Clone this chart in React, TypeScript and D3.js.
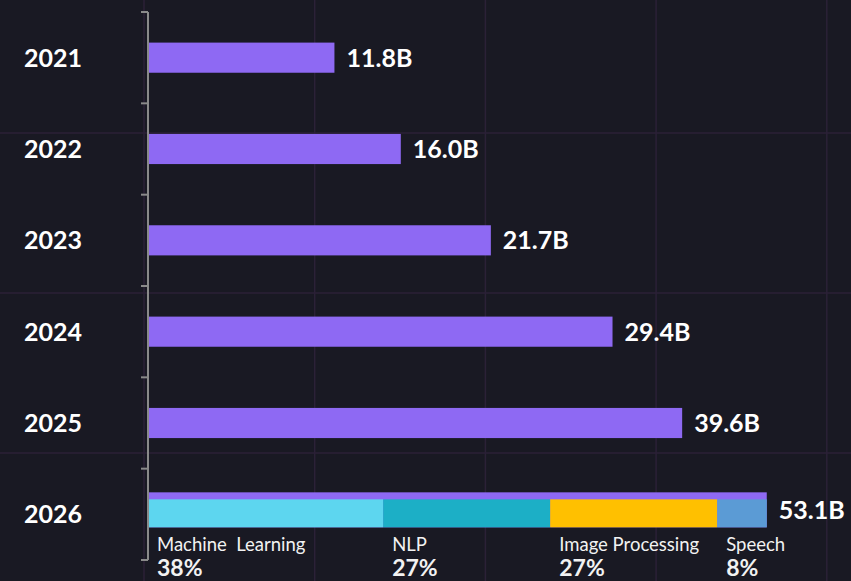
import React from "react";
import * as d3 from "d3";

// market size by year, billions
const years = ["2021", "2022", "2023", "2024", "2025", "2026"];
const sizes = [11.8, 16.0, 21.7, 29.4, 39.6, 53.1];

// 2026 split by segment
const segNames = ["Machine  Learning", "NLP", "Image Processing", "Speech"];
const segShares = [38, 27, 27, 8];
const segColors = ["#5dd6ef", "#1cafc6", "#ffc000", "#5b9bd5"];

const W = 851;
const H = 581;
const BG = "#191923";
const PURPLE = "#8e69f3";
const FONT = "Lato, 'Open Sans', sans-serif";

export default function App() {
  const left = 148;

  const y = d3.scaleBand<string>().domain(years).range([12, 560]).padding(0);

  // axis is stretched toward the small values, flattens past 30B
  const x = d3.scaleLinear().domain([0, 30, 60]).range([left, 622, 810]);

  const barH = y.bandwidth() * 0.33;
  const last = years[years.length - 1];
  const lastVal = sizes[sizes.length - 1];

  // stacked segments of the final bar
  const shareTotal = d3.sum(segShares);
  const segX = d3.scaleLinear().domain([0, shareTotal]).range([x(0), x(lastVal)]);
  const cum = d3.cumsum(segShares);
  const segs = segNames.map((name, i) => ({
    name,
    share: segShares[i],
    color: segColors[i],
    x0: segX(cum[i] - segShares[i]),
    x1: segX(cum[i]),
  }));

  const lastCy = (y(last) as number) + y.bandwidth() / 2;
  const lastTop = lastCy - 22;
  const lastH = 35;

  // background grid
  const gridX = d3.range(-1, 5).map((k) => 144 + k * 170.7);
  const gridY = d3.range(-1, 4).map((k) => 133 + k * 160);

  const boundaries = d3.range(years.length + 1).map((i) => y.range()[0] + i * y.step());

  return (
    <svg
      width={W}
      height={H}
      style={{ position: "fixed", left: 0, top: 0, display: "block", background: BG }}
    >
      <rect width={W} height={H} fill={BG} />
      <g stroke="#2b2137" strokeWidth={1.5}>
        {gridX.map((gx) => (
          <line key={"gx" + gx} x1={gx} x2={gx} y1={0} y2={H} />
        ))}
        {gridY.map((gy) => (
          <line key={"gy" + gy} x1={0} x2={W} y1={gy} y2={gy} />
        ))}
      </g>

      {/* bars */}
      {years.map((yr, i) => {
        if (yr === last) return null;
        const cy = (y(yr) as number) + y.bandwidth() / 2;
        return (
          <g key={yr}>
            <rect x={x(0)} y={cy - barH / 2} width={x(sizes[i]) - x(0)} height={barH} fill={PURPLE} />
            <text
              x={x(sizes[i]) + 12}
              y={cy}
              dy="0.36em"
              fill="#fff"
              fontFamily={FONT}
              fontWeight={700}
              fontSize={25}
            >
              {sizes[i].toFixed(1)}B
            </text>
          </g>
        );
      })}

      {/* last bar with segment split */}
      <rect x={x(0)} y={lastTop} width={x(lastVal) - x(0)} height={lastH} fill={PURPLE} />
      {segs.map((s) => (
        <rect key={s.name} x={s.x0} y={lastTop + 7} width={s.x1 - s.x0} height={lastH - 7} fill={s.color} />
      ))}
      <text
        x={x(lastVal) + 12}
        y={lastCy - 4}
        dy="0.36em"
        fill="#fff"
        fontFamily={FONT}
        fontWeight={700}
        fontSize={25}
      >
        {lastVal.toFixed(1)}B
      </text>
      {segs.map((s) => (
        <g key={"l" + s.name} fontFamily={FONT} fill="#f2f2f2">
          <text x={s.x0 + 9} y={551} fontSize={18.5} style={{ whiteSpace: "pre" }}>
            {s.name}
          </text>
          <text x={s.x0 + 9} y={576} fontSize={23} fontWeight={700}>
            {s.share}%
          </text>
        </g>
      ))}

      {/* y axis */}
      <g stroke="#8a8a8a" strokeWidth={2} fill="none">
        <line x1={left} x2={left} y1={y.range()[0]} y2={y.range()[1]} />
        {boundaries.map((b) => (
          <line key={"t" + b} x1={left - 7} x2={left} y1={b} y2={b} />
        ))}
      </g>
      {years.map((yr) => (
        <text
          key={"y" + yr}
          x={53}
          y={(y(yr) as number) + y.bandwidth() / 2}
          dy="0.36em"
          textAnchor="middle"
          fill="#fff"
          fontFamily={FONT}
          fontWeight={700}
          fontSize={25}
        >
          {yr}
        </text>
      ))}
    </svg>
  );
}
